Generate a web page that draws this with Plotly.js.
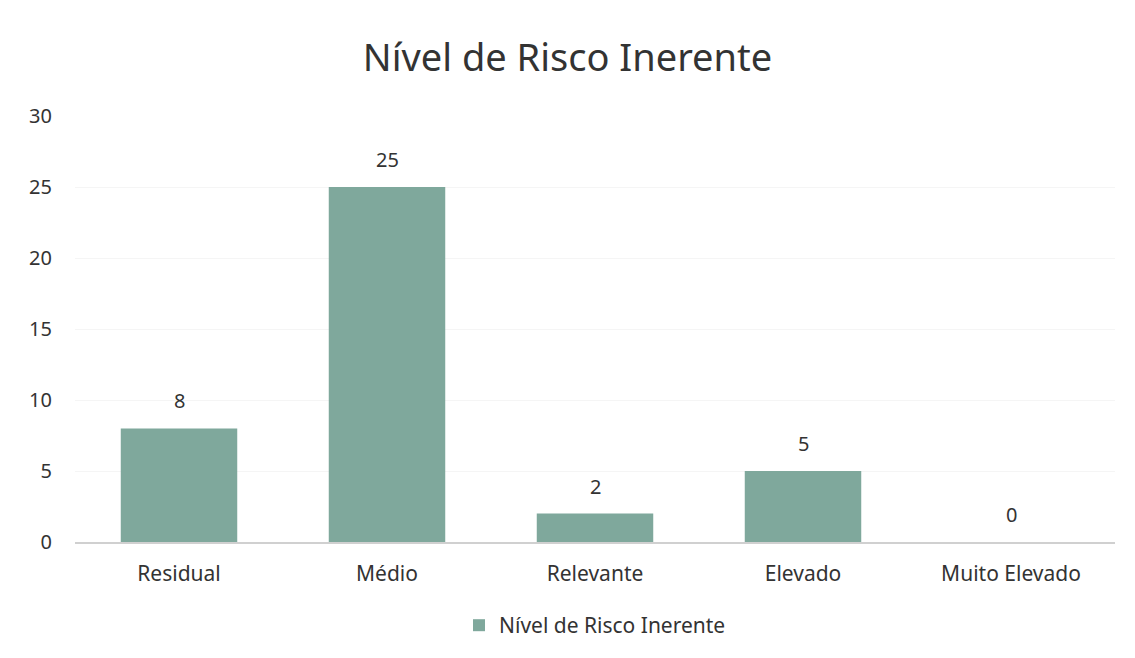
<!DOCTYPE html>
<html>
<head>
<meta charset="utf-8">
<script src="https://cdn.plot.ly/plotly-3.0.1.min.js"></script>
<style>html,body{margin:0;padding:0;background:#fff;}#chart{width:1135px;height:658px;}</style>
</head>
<body>
<div id="chart"></div>
<script>
const categories = ["Residual", "Médio", "Relevante", "Elevado", "Muito Elevado"];
const values = [8, 25, 2, 5, 0];
const seriesName = "Nível de Risco Inerente";
const yTicks = [0, 5, 10, 15, 20, 25, 30];

const FONT = "Noto Sans, sans-serif";

const trace = {
  type: "bar",
  x: categories,
  y: values,
  name: seriesName,
  marker: {color: "#7fa89c"},
  hoverinfo: "x+y"
};

const labelAnnotations = categories.map((c, i) => ({
  x: c, y: values[i], xref: "x", yref: "y",
  text: String(values[i]), showarrow: false,
  yanchor: "bottom", yshift: 12,
  font: {family: FONT, size: 20, color: "#333"}
}));

const layout = {
  width: 1135, height: 658,
  paper_bgcolor: "#fff", plot_bgcolor: "#fff",
  margin: {l: 75, r: 20, t: 116, b: 116, autoexpand: false},
  title: {text: "Nível de Risco Inerente", x: 0.5, xanchor: "center", y: 0.913, yanchor: "middle",
          font: {family: FONT, size: 38, color: "#333"}},
  font: {family: FONT, color: "#333"},
  bargap: 0.44,
  xaxis: {
    showgrid: false, showline: true, linecolor: "#d0d0d0", linewidth: 1.5, automargin: false,
    tickfont: {size: 21, color: "#333"}, ticks: "", fixedrange: true, ticklabelstandoff: 12
  },
  yaxis: {
    range: [0, 30], tickvals: yTicks, ticktext: yTicks.map(String), automargin: false,
    showgrid: true, gridcolor: "#f5f5f5", zeroline: false, showline: false,
    tickfont: {size: 20, color: "#333"}, ticks: "", ticklabelstandoff: 22
  },
  annotations: labelAnnotations,
  showlegend: true,
  legend: {orientation: "h", x: 0.5, xanchor: "center", y: -0.148, yanchor: "top",
           font: {size: 21, color: "#333"}, itemwidth: 30},
};

Plotly.newPlot("chart", [trace], layout, {displayModeBar: false, staticPlot: true});
</script>
</body>
</html>
